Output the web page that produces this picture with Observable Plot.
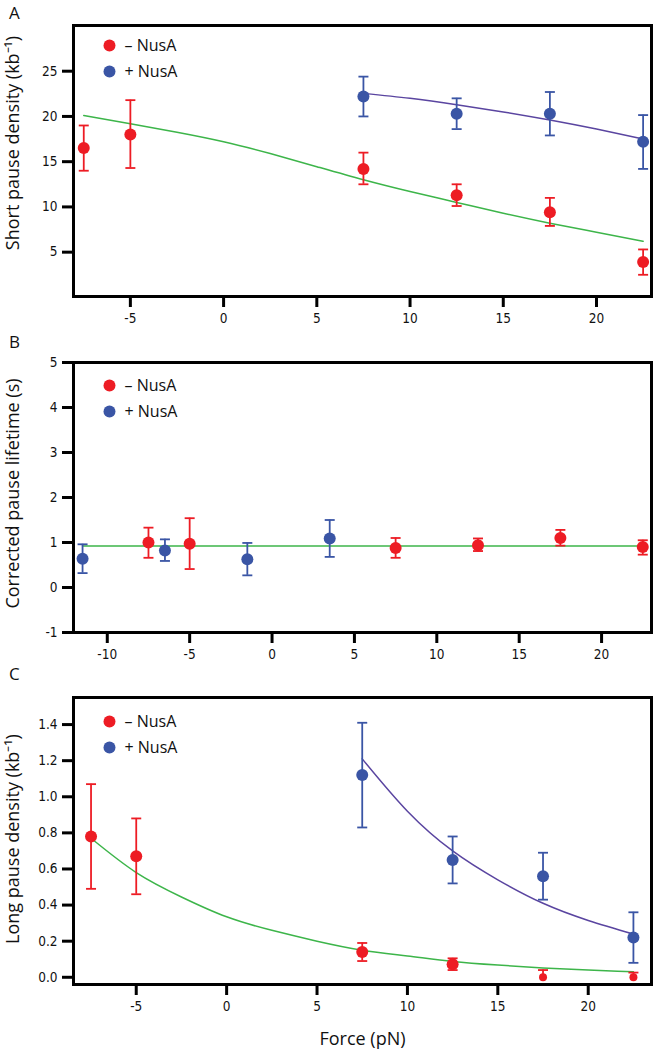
<!DOCTYPE html>
<html><head><meta charset="utf-8">
<script src="https://cdn.jsdelivr.net/npm/d3@7"></script>
<script src="https://cdn.jsdelivr.net/npm/@observablehq/plot@0.6"></script>
<style>
body{margin:0;background:#fff;}
#wrap{position:relative;width:653px;height:1050px;overflow:hidden;}
.panel{position:absolute;left:0;}
#letters{position:absolute;left:0;top:0;pointer-events:none;}
.panel svg g[aria-label="x-axis tick label"], .panel svg g[aria-label="y-axis tick label"] {
  font-family: "DejaVu Sans", sans-serif; font-stretch: condensed;
}
</style></head><body><div id="wrap"></div>
<script>
// ---------- Data ----------
const legendLabels = ["\u2013 NusA", "+ NusA"];
const panelLetters = ["A", "B", "C"];
const xTitle = "Force (pN)";
const yTitles = ["Short pause density (kb\u207B\u00B9)", "Corrected pause lifetime (s)", "Long pause density (kb\u207B\u00B9)"];

// Panel A: short pause density
const aMinusF = [-7.5, -5, 7.5, 12.5, 17.5, 22.5];
const aMinusY = [16.5, 18.0, 14.2, 11.3, 9.4, 3.9];
const aMinusLo = [14.0, 14.3, 12.5, 10.1, 7.9, 2.5];
const aMinusHi = [19.0, 21.8, 16.0, 12.5, 11.0, 5.3];
const aPlusF = [7.5, 12.5, 17.5, 22.5];
const aPlusY = [22.2, 20.3, 20.3, 17.2];
const aPlusLo = [20.0, 18.6, 17.9, 14.2];
const aPlusHi = [24.4, 22.0, 22.7, 20.15];
const aFitMinusF = [-7.5, -5, -2.5, 0, 2.5, 5, 7.5, 10, 12.5, 15, 17.5, 20, 22.5];
const aFitMinusY = [20.1, 19.2, 18.25, 17.2, 15.9, 14.45, 13.0, 11.7, 10.5, 9.3, 8.2, 7.2, 6.2];
const aFitPlusF = [7.5, 10, 12.5, 15, 17.5, 20, 22.5];
const aFitPlusY = [22.55, 22.0, 21.3, 20.5, 19.6, 18.6, 17.5];
const aXTicks = [-5, 0, 5, 10, 15, 20];
const aYTicks = [5, 10, 15, 20, 25];

// Panel B: corrected pause lifetime
const bMinusF = [-7.5, -5, 7.5, 12.5, 17.5, 22.5];
const bMinusY = [1.0, 0.97, 0.88, 0.94, 1.10, 0.90];
const bMinusLo = [0.66, 0.41, 0.66, 0.81, 0.93, 0.73];
const bMinusHi = [1.33, 1.54, 1.10, 1.09, 1.28, 1.05];
const bPlusF = [-11.5, -6.5, -1.5, 3.5];
const bPlusY = [0.64, 0.82, 0.63, 1.09];
const bPlusLo = [0.32, 0.59, 0.27, 0.68];
const bPlusHi = [0.96, 1.07, 0.99, 1.50];
const bFitF = [-11.5, 22.5];
const bFitY = [0.92, 0.92];
const bXTicks = [-10, -5, 0, 5, 10, 15, 20];
const bYTicks = [-1, 0, 1, 2, 3, 4, 5];

// Panel C: long pause density
const cMinusF = [-7.5, -5, 7.5, 12.5, 17.5, 22.5];
const cMinusY = [0.78, 0.67, 0.14, 0.072, 0.0, 0.0];
const cMinusLo = [0.49, 0.46, 0.09, 0.04, 0.0, 0.0];
const cMinusHi = [1.07, 0.88, 0.19, 0.105, 0.04, 0.026];
const cPlusF = [7.5, 12.5, 17.5, 22.5];
const cPlusY = [1.12, 0.65, 0.56, 0.22];
const cPlusLo = [0.83, 0.52, 0.43, 0.08];
const cPlusHi = [1.41, 0.78, 0.69, 0.36];
const cFitMinusF = [-7.5, -5, -2.5, 0, 2.5, 5, 7.5, 10, 12.5, 15, 17.5, 20, 22.5];
const cFitMinusY = [0.77, 0.58, 0.445, 0.335, 0.26, 0.2, 0.15, 0.118, 0.088, 0.068, 0.052, 0.04, 0.03];
const cFitPlusF = [7.5, 10, 12.5, 15, 17.5, 20, 22.5];
const cFitPlusY = [1.21, 0.92, 0.70, 0.54, 0.41, 0.315, 0.24];
const cXTicks = [-5, 0, 5, 10, 15, 20];
const cYTicks = [0, 0.2, 0.4, 0.6, 0.8, 1.0, 1.2, 1.4];

// ---------- Styles ----------
const RED = "#ED1C24", BLUE = "#3A55A5", GREEN = "#3DB54A", PURPLE = "#5A45A0";
const TEXT_FONT = "'Open Sans', sans-serif";

const zip = (f, y, lo, hi) => f.map((x, i) => ({x, y: y[i], lo: lo[i], hi: hi[i]}));
const zipLine = (f, y) => f.map((x, i) => ({x, y: y[i]}));
const capSymbol = {draw(ctx, size) { const w = Math.sqrt(size / Math.PI); ctx.moveTo(-w, 0); ctx.lineTo(w, 0); }};

function seriesMarks(data, color, smallZero) {
  const big = smallZero ? data.filter(d => d.y !== 0) : data;
  const small = smallZero ? data.filter(d => d.y === 0) : [];
  return [
    Plot.ruleX(data, {x: "x", y1: "lo", y2: "hi", stroke: color, strokeWidth: 1.8}),
    Plot.dot(data, {x: "x", y: "hi", symbol: capSymbol, r: 5, stroke: color, strokeWidth: 1.8, fill: "none"}),
    Plot.dot(data.filter(d => d.lo !== d.y), {x: "x", y: "lo", symbol: capSymbol, r: 5, stroke: color, strokeWidth: 1.8, fill: "none"}),
    Plot.dot(big, {x: "x", y: "y", r: 6, fill: color, stroke: "none"}),
    Plot.dot(small, {x: "x", y: "y", r: 4, fill: color, stroke: "none"})
  ];
}

function makePanel(o) {
  const marks = [];
  if (o.fitMinus) marks.push(Plot.line(o.fitMinus, {x: "x", y: "y", stroke: GREEN, strokeWidth: 1.5, curve: "natural"}));
  if (o.fitPlus) marks.push(Plot.line(o.fitPlus, {x: "x", y: "y", stroke: PURPLE, strokeWidth: 1.5, curve: "natural"}));
  marks.push(...seriesMarks(o.minus, RED, o.smallZero));
  marks.push(...seriesMarks(o.plus, BLUE, false));
  marks.push(Plot.frame({stroke: "black", strokeWidth: 3}));
  marks.push(Plot.axisX({ticks: o.xTicks, tickSize: 11, tickPadding: 6, strokeWidth: 3, stroke: "black",
    tickFormat: d => String(d), fontSize: 13.5, fill: "#111", label: null}));
  marks.push(Plot.axisY({ticks: o.yTicks, tickSize: 11, tickPadding: 5, strokeWidth: 3, stroke: "black",
    tickFormat: o.yFmt, fontSize: 13.5, fill: "#111", label: null}));
  // legend
  marks.push(Plot.dot([legendLabels[0]], {frameAnchor: "top-left", dx: 36, dy: o.legDy, r: 6, fill: RED}));
  marks.push(Plot.dot([legendLabels[1]], {frameAnchor: "top-left", dx: 36, dy: o.legDy + 26, r: 6, fill: BLUE}));
  marks.push(Plot.text([legendLabels[0]], {frameAnchor: "top-left", dx: 51, dy: o.legDy, text: d => d, textAnchor: "start", lineAnchor: "middle", fontSize: 16, fontFamily: TEXT_FONT, fill: "#111"}));
  marks.push(Plot.text([legendLabels[1]], {frameAnchor: "top-left", dx: 51, dy: o.legDy + 26, text: d => d, textAnchor: "start", lineAnchor: "middle", fontSize: 16, fontFamily: TEXT_FONT, fill: "#111"}));
  // y title
  marks.push(Plot.text([o.yTitle], {frameAnchor: "left", dx: -60, dy: o.titleDy, rotate: -90, text: d => d, textAnchor: "middle", lineAnchor: "middle", fontSize: 18, fontFamily: TEXT_FONT, fill: "#111"}));
  if (o.xTitle) marks.push(Plot.text([o.xTitle], {frameAnchor: "bottom", dy: 55, text: d => d, textAnchor: "middle", lineAnchor: "middle", fontSize: 18, fontFamily: TEXT_FONT, fill: "#111"}));

  const svg = Plot.plot({
    width: 653, height: o.height,
    marginLeft: 73, marginRight: 2, marginTop: o.mt, marginBottom: o.mb,
    x: {domain: o.xDomain},
    y: {domain: o.yDomain},
    style: {background: "white", overflow: "visible"},
    marks
  });
  const div = document.createElement("div");
  div.className = "panel";
  div.style.top = o.top + "px";
  div.appendChild(svg);
  document.getElementById("wrap").appendChild(div);
}

makePanel({top: 0, height: 335, mt: 25, mb: 39, xDomain: [-8.05, 22.95], yDomain: [0.1, 30.05],
  xTicks: aXTicks, yTicks: aYTicks, yFmt: d => String(d),
  minus: zip(aMinusF, aMinusY, aMinusLo, aMinusHi), plus: zip(aPlusF, aPlusY, aPlusLo, aPlusHi),
  fitMinus: zipLine(aFitMinusF, aFitMinusY), fitPlus: zipLine(aFitPlusF, aFitPlusY),
  legDy: 20, titleDy: -18, yTitle: yTitles[0]});

makePanel({top: 335, height: 335, mt: 27, mb: 38, xDomain: [-12.05, 23.03], yDomain: [-1, 5],
  xTicks: bXTicks, yTicks: bYTicks, yFmt: d => String(d),
  minus: zip(bMinusF, bMinusY, bMinusLo, bMinusHi), plus: zip(bPlusF, bPlusY, bPlusLo, bPlusHi),
  fitMinus: zipLine(bFitF, bFitY), fitPlus: null,
  legDy: 23, titleDy: -4, yTitle: yTitles[1]});

makePanel({top: 670, height: 380, mt: 27, mb: 66, xDomain: [-8.47, 23.5], yDomain: [-0.04, 1.55],
  xTicks: cXTicks, yTicks: cYTicks, yFmt: d => d.toFixed(1), smallZero: true,
  minus: zip(cMinusF, cMinusY, cMinusLo, cMinusHi), plus: zip(cPlusF, cPlusY, cPlusLo, cPlusHi),
  fitMinus: zipLine(cFitMinusF, cFitMinusY), fitPlus: zipLine(cFitPlusF, cFitPlusY),
  legDy: 24, titleDy: -2, yTitle: yTitles[2], xTitle: xTitle});

// panel letters (overlay)
const letterBaselines = [18.5, 348, 680];
const overlay = d3.select("#wrap").append("svg").attr("id", "letters").attr("width", 653).attr("height", 1050);
overlay.selectAll("text").data(panelLetters).join("text")
  .attr("x", 9).attr("y", (d, i) => letterBaselines[i])
  .attr("font-family", TEXT_FONT).attr("font-size", 17).attr("fill", "#111")
  .text(d => d);
</script></body></html>
